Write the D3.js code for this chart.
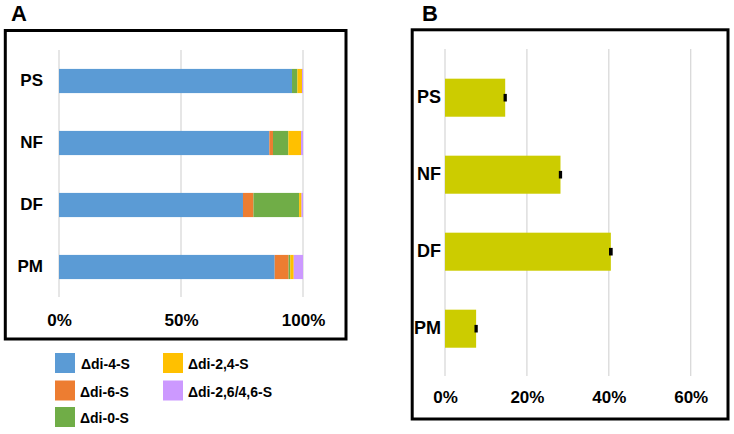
<!DOCTYPE html>
<html>
<head>
<meta charset="utf-8">
<script src="https://cdn.jsdelivr.net/npm/d3@7"></script>
<style>
  html, body { margin: 0; padding: 0; background: #fff; }
  svg { display: block; }
  text { font-family: "Liberation Sans", Arial, sans-serif; font-weight: bold; fill: #000; }
</style>
</head>
<body>
<svg id="chart" width="734" height="434"></svg>
<script>
// ---------- DATA ----------
const categories = ["PS", "NF", "DF", "PM"];
const seriesNames = ["\u0394di-4-S", "\u0394di-6-S", "\u0394di-0-S", "\u0394di-2,4-S", "\u0394di-2,6/4,6-S"];
const seriesColors = ["#5B9BD5", "#ED7D31", "#70AD47", "#FFC000", "#CC99FF"];
// percent composition per category (PS, NF, DF, PM)
const di4S   = [95.5, 86.2, 75.4, 88.4];
const di6S   = [0.0, 1.5, 4.3, 5.7];
const di0S   = [2.2, 6.3, 18.7, 0.7];
const di24S  = [1.9, 5.2, 1.0, 1.4];
const di2646S= [0.4, 0.8, 0.6, 3.8];
const tickLabelsA = [0, 50, 100];

// Panel B values (%) and error
const valuesB = [14.7, 28.2, 40.5, 7.6];
const errorsB = [0.4, 0.4, 0.45, 0.4];
const tickLabelsB = [0, 20, 40, 60];

// ---------- DRAW ----------
const svg = d3.select("#chart");
const seriesData = [di4S, di6S, di0S, di24S, di2646S];

// Panel titles
svg.append("text").attr("x", 11).attr("y", 21).style("font-size", "22px").text("A");
svg.append("text").attr("x", 422).attr("y", 21).style("font-size", "22px").text("B");

// Frames
svg.append("rect").attr("x", 5.3).attr("y", 30.5).attr("width", 340.7).attr("height", 308.5)
  .attr("fill", "none").attr("stroke", "#000").attr("stroke-width", 3);
svg.append("rect").attr("x", 412.2).attr("y", 29.8).attr("width", 315.8).attr("height", 389.2)
  .attr("fill", "none").attr("stroke", "#000").attr("stroke-width", 3);

// ----- Panel A -----
const xA = d3.scaleLinear().domain([0, 100]).range([59, 303]);
const yA = d3.scaleBand().domain(categories).range([50, 298]).paddingInner(0.61).paddingOuter(0.305);

const gA = svg.append("g");
gA.selectAll("line.grid").data(tickLabelsA).enter().append("line")
  .attr("x1", d => xA(d)).attr("x2", d => xA(d))
  .attr("y1", 50).attr("y2", 297)
  .attr("stroke", "#d9d9d9").attr("stroke-width", 1.3);

const stackRows = categories.map((c, i) => {
  const row = { cat: c };
  seriesNames.forEach((s, j) => row[s] = seriesData[j][i]);
  return row;
});
const stacked = d3.stack().keys(seriesNames)(stackRows);
gA.selectAll("g.series").data(stacked).enter().append("g")
  .attr("fill", (d, i) => seriesColors[i])
  .selectAll("rect").data(d => d).enter().append("rect")
  .attr("x", d => xA(d[0]))
  .attr("width", d => Math.max(0, xA(d[1]) - xA(d[0])))
  .attr("y", d => yA(d.data.cat))
  .attr("height", yA.bandwidth());

const axisAx = d3.axisBottom(xA).tickValues(tickLabelsA).tickFormat(d => d + "%").tickSize(0).tickPadding(0);
const axA = gA.append("g").attr("transform", "translate(0,314)").call(axisAx);
axA.select(".domain").remove();
axA.selectAll("text").style("font-size", "17px").attr("dy", "0.71em")
  .style("font-family", "'Liberation Sans', Arial, sans-serif").style("font-weight", "bold").attr("fill", "#000");

const axisAy = d3.axisLeft(yA).tickSize(0).tickPadding(0);
const ayA = gA.append("g").attr("transform", "translate(43,0)").call(axisAy);
ayA.select(".domain").remove();
ayA.selectAll("text").style("font-size", "17px")
  .style("font-family", "'Liberation Sans', Arial, sans-serif").style("font-weight", "bold").attr("fill", "#000");

// Legend
const legendPos = [
  { x: 55, y: 353 }, { x: 55, y: 380.5 }, { x: 55, y: 407 },
  { x: 163, y: 353 }, { x: 163, y: 380.5 }
];
const leg = svg.append("g").selectAll("g").data(seriesNames).enter().append("g")
  .attr("transform", (d, i) => `translate(${legendPos[i].x},${legendPos[i].y})`);
leg.append("rect").attr("width", 20).attr("height", 20)
  .attr("fill", (d, i) => seriesColors[i]);
leg.append("text").attr("x", (d, i) => i === 0 ? 26 : 25).attr("y", (d, i) => i === 0 || i === 3 ? 15.5 : 16)
  .style("font-size", "14px").text(d => d);

// ----- Panel B -----
const xB = d3.scaleLinear().domain([0, 60]).range([445, 690.7]);
const yB = d3.scaleBand().domain(categories).range([59.2, 367.2]).paddingInner(0.506).paddingOuter(0.253);

const gB = svg.append("g");
gB.selectAll("line.grid").data(tickLabelsB).enter().append("line")
  .attr("x1", d => xB(d)).attr("x2", d => xB(d))
  .attr("y1", 49).attr("y2", 376)
  .attr("stroke", "#d9d9d9").attr("stroke-width", 1.3);

gB.selectAll("rect.bar").data(categories).enter().append("rect")
  .attr("x", xB(0))
  .attr("width", (d, i) => xB(valuesB[i]) - xB(0))
  .attr("y", d => yB(d))
  .attr("height", yB.bandwidth())
  .attr("fill", "#CCCC00");

gB.selectAll("rect.err").data(categories).enter().append("rect")
  .attr("x", (d, i) => xB(valuesB[i] - errorsB[i]))
  .attr("width", (d, i) => xB(valuesB[i] + errorsB[i]) - xB(valuesB[i] - errorsB[i]))
  .attr("y", d => yB(d) + yB.bandwidth() / 2 - 3.8)
  .attr("height", 7.6)
  .attr("fill", "#000");

const axisBx = d3.axisBottom(xB).tickValues(tickLabelsB).tickFormat(d => d + "%").tickSize(0).tickPadding(0);
const axB = gB.append("g").attr("transform", "translate(0,391)").call(axisBx);
axB.select(".domain").remove();
axB.selectAll("text").style("font-size", "17px").attr("dy", "0.71em")
  .style("font-family", "'Liberation Sans', Arial, sans-serif").style("font-weight", "bold").attr("fill", "#000");

const axisBy = d3.axisLeft(yB).tickSize(0).tickPadding(0);
const ayB = gB.append("g").attr("transform", "translate(441,0)").call(axisBy);
ayB.select(".domain").remove();
ayB.selectAll("text").style("font-size", "18px")
  .style("font-family", "'Liberation Sans', Arial, sans-serif").style("font-weight", "bold").attr("fill", "#000");
</script>
</body>
</html>
